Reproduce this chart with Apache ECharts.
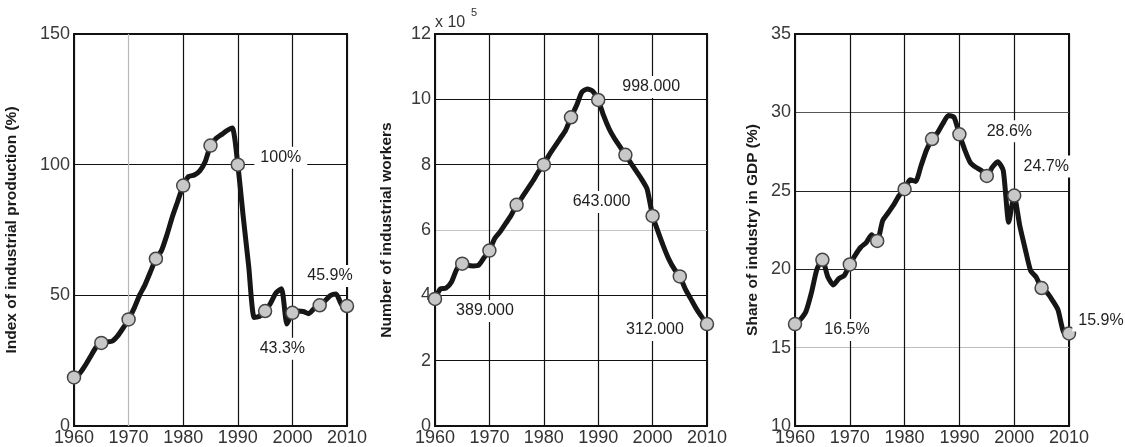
<!DOCTYPE html>
<html>
<head>
<meta charset="utf-8">
<script src="https://cdn.jsdelivr.net/npm/echarts@6/dist/echarts.min.js"></script>
<style>
html,body{margin:0;padding:0;background:#fff;}
#chart{width:1125px;height:447px;}
</style>
</head>
<body>
<div id="chart"></div>
<script>
// ---------- DATA ----------
const YEARS = [1960,1961,1962,1963,1964,1965,1966,1967,1968,1969,
               1970,1971,1972,1973,1974,1975,1976,1977,1978,1979,
               1980,1981,1982,1983,1984,1985,1986,1987,1988,1989,
               1990,1991,1992,1993,1994,1995,1996,1997,1998,1999,
               2000,2001,2002,2003,2004,2005,2006,2007,2008,2009,2010];

// Index of industrial production (%)
const PRODUCTION = [18.6,20.0,23.0,26.5,30.0,31.8,32.2,32.5,34.5,37.5,
                    40.8,45.0,50.0,54.0,59.0,64.0,67.0,73.0,80.0,86.0,
                    92.0,95.5,96.0,97.5,101.0,107.3,110.0,111.5,113.0,114.0,
                    100.0,80.0,61.0,41.5,42.0,44.0,47.0,51.0,52.5,39.0,
                    43.3,44.0,43.8,43.0,45.0,46.2,48.0,50.0,50.5,46.5,45.9];

// Number of industrial workers (x 10^5)
const WORKERS = [3.89,4.20,4.22,4.40,4.80,4.97,4.92,4.90,4.92,5.15,
                 5.37,5.75,5.95,6.20,6.45,6.77,7.00,7.25,7.50,7.78,
                 8.00,8.30,8.55,8.80,9.05,9.45,9.80,10.22,10.32,10.25,
                 9.98,9.50,9.10,8.80,8.55,8.30,8.05,7.80,7.55,7.25,
                 6.43,5.95,5.50,5.10,4.80,4.58,4.20,3.90,3.60,3.35,3.12];

// Share of industry in GDP (%)
const GDP_SHARE = [16.5,16.8,17.3,18.5,20.0,20.6,19.5,19.0,19.4,19.6,
                   20.3,20.9,21.4,21.7,22.2,21.8,23.1,23.6,24.1,24.7,
                   25.1,25.7,25.6,26.6,27.6,28.3,28.7,29.3,29.8,29.7,
                   28.6,27.6,26.8,26.5,26.3,25.95,26.5,26.85,26.3,23.0,
                   24.7,22.8,21.3,19.9,19.5,18.8,18.5,18.0,17.4,16.0,15.9];

const MARKER_YEARS = [1960,1965,1970,1975,1980,1985,1990,1995,2000,2005,2010];

const X_TICKS = [1960,1970,1980,1990,2000,2010];
const Y_TICKS_PROD = [0,50,100,150];
const Y_TICKS_WORK = [0,2,4,6,8,10,12];
const Y_TICKS_GDP = [10,15,20,25,30,35];

const NOTES_PROD = [[1990,'100%'],[2000,'43.3%'],[2010,'45.9%']];
const NOTES_WORK = [[1990,'998.000'],[2000,'643.000'],[1960,'389.000'],[2010,'312.000']];
const NOTES_GDP  = [[1990,'28.6%'],[2000,'24.7%'],[1960,'16.5%'],[2010,'15.9%']];

const Y_NAMES = ['Index of industrial production (%)','Number of industrial workers','Share of industry in GDP (%)'];

// ---------- STYLE / LAYOUT ----------
const FONT = 'Liberation Sans, Arial, Helvetica, sans-serif';
const NOTE_OFFSETS = [
  {1990:[43,-7], 2000:[-10,36], 2010:[-17,-30]},
  {1990:[53,-13], 2000:[-51,-14], 1960:[50,12], 2010:[-52,6]},
  {1990:[50,-3], 2000:[32,-29], 1960:[52,6], 2010:[32,-13]}
];
const GRIDS = [
  {left:74, top:34, width:273, height:393},
  {left:435, top:34, width:272, height:393},
  {left:795, top:34, width:274, height:393}
];
const NAME_GAPS = [54, 40, 34];
const X_SPLIT_COLORS = [
  ['#111','#b8b8b8','#111','#111','#111','#111'],
  ['#111','#111','#111','#111','#111','#111'],
  ['#111','#111','#111','#111','#111','#111']
];
const Y_SPLIT_COLORS = [
  ['#111','#111','#111','#111'],
  ['#111','#111','#111','#c4c4c4','#111','#111','#111'],
  ['#111','#bdbdbd','#222','#222','#555','#111']
];

const seriesData = [PRODUCTION, WORKERS, GDP_SHARE];
const yTicks = [Y_TICKS_PROD, Y_TICKS_WORK, Y_TICKS_GDP];
const notes = [NOTES_PROD, NOTES_WORK, NOTES_GDP];

function valueAt(arr, year){ return arr[YEARS.indexOf(year)]; }

const grid = [], xAxis = [], yAxis = [], series = [];
for (let i = 0; i < 3; i++) {
  const g = GRIDS[i];
  grid.push(Object.assign({show:true, borderColor:'#111', borderWidth:2, backgroundColor:'#fff'}, g));
  xAxis.push({
    type:'value', gridIndex:i,
    min:X_TICKS[0], max:X_TICKS[X_TICKS.length-1], interval:X_TICKS[1]-X_TICKS[0],
    axisLine:{show:false}, axisTick:{show:false},
    axisLabel:{color:'#333', fontSize:18, fontFamily:FONT, margin:3, formatter:v=>String(v)},
    splitLine:{show:true, lineStyle:{color:X_SPLIT_COLORS[i], width:1.2}}
  });
  const yt = yTicks[i];
  yAxis.push({
    type:'value', gridIndex:i,
    min:yt[0], max:yt[yt.length-1], interval:yt[1]-yt[0],
    name:Y_NAMES[i], nameLocation:'middle', nameRotate:90, nameGap:NAME_GAPS[i],
    nameTextStyle:{color:'#1a1a1a', fontSize:15.5, fontWeight:'bold', fontFamily:FONT},
    axisLine:{show:false}, axisTick:{show:false},
    axisLabel:{color:'#3a3a3a', fontSize:18, fontFamily:FONT, margin:4},
    splitLine:{show:true, lineStyle:{color:Y_SPLIT_COLORS[i], width:1.2}}
  });
  const arr = seriesData[i];
  series.push({
    type:'line', xAxisIndex:i, yAxisIndex:i,
    data:YEARS.map((y,k)=>[y,arr[k]]),
    showSymbol:false, smooth:0.2,
    lineStyle:{color:'#161616', width:5, cap:'round', join:'round'},
    z:3, silent:true, animation:false
  });
  series.push({
    type:'scatter', xAxisIndex:i, yAxisIndex:i,
    data:MARKER_YEARS.map(y=>[y,valueAt(arr,y)]),
    symbol:'circle', symbolSize:13,
    itemStyle:{color:'#c8c8c8', borderColor:'#444', borderWidth:1.5, opacity:1},
    z:4, silent:true, animation:false
  });
  series.push({
    type:'scatter', xAxisIndex:i, yAxisIndex:i,
    data:notes[i].map(([y,t])=>({
      value:[y,valueAt(arr,y)], name:t,
      label:{offset:NOTE_OFFSETS[i][y]}
    })),
    symbolSize:0,
    itemStyle:{opacity:1},
    label:{show:true, position:'inside', formatter:p=>p.name,
      color:'#1e1e1e', fontSize:16, fontFamily:FONT, opacity:1,
      textBorderWidth:0, backgroundColor:'#fff', padding:[3,6]},
    z:5, silent:true, animation:false
  });
}

const chart = echarts.init(document.getElementById('chart'), null, {renderer:'canvas'});
chart.setOption({
  animation:false,
  backgroundColor:'#fff',
  grid, xAxis, yAxis, series,
  graphic:[
    {type:'text', left:435, top:15, style:{text:'x 10', fill:'#333', fontSize:16, fontFamily:FONT}},
    {type:'text', left:471, top:7, style:{text:'5', fill:'#333', fontSize:11, fontFamily:FONT}}
  ]
});
</script>
</body>
</html>
